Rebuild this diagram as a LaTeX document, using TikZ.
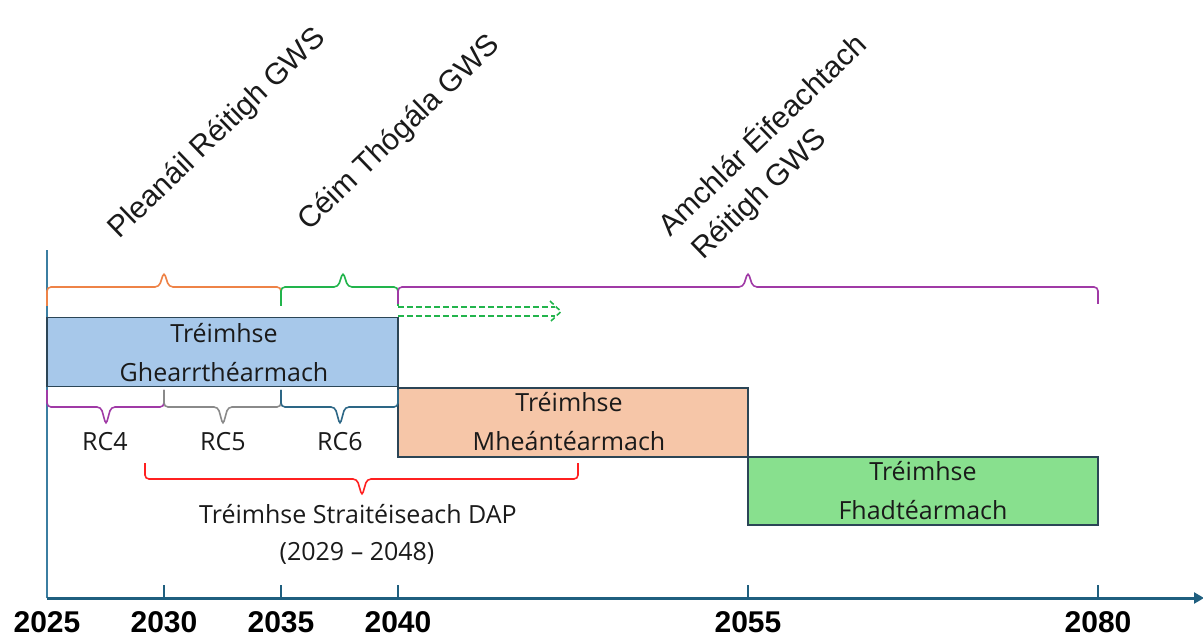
\documentclass[tikz,border=0pt]{standalone}
\usepackage{fontspec}
\setmainfont{Open Sans}
\newfontfamily\arialf{Liberation Sans}
\usetikzlibrary{arrows.meta}
\definecolor{axisc}{HTML}{1F5F7F}
\definecolor{vaxc}{HTML}{3B7EA1}
\definecolor{boxline}{HTML}{2B4556}
\definecolor{bluef}{HTML}{A7C8EA}
\definecolor{orangef}{HTML}{F6C6A8}
\definecolor{greenf}{HTML}{88E08E}
\definecolor{cor}{HTML}{EE8347}
\definecolor{cgr}{HTML}{22B44C}
\definecolor{cpu}{HTML}{A03AA6}
\definecolor{cgy}{HTML}{8A8A8A}
\definecolor{cte}{HTML}{2D6786}
\definecolor{cre}{HTML}{FF2020}
\definecolor{txt}{HTML}{1A1A1A}
\newcommand\mybrace[8]{\draw[bracesty,#1] (#2,#6) -- (#2,#5) -- (#4-5,#5) -- (#4,#7) -- (#4+5,#5) -- (#3,#5) -- (#3,#8);}
\begin{document}
\begin{tikzpicture}[x=1pt,y=-1pt,
 bracesty/.style={line width=1.6pt, rounded corners=4pt},
 period/.style={draw=boxline, line width=1.4pt, rectangle, inner sep=0pt},
 btext/.style={font=\fontsize{25}{28}\selectfont, anchor=base, inner sep=0pt, text=txt},
 ylab/.style={font=\arialf\bfseries\fontsize{30}{32}\selectfont, anchor=base, inner sep=0pt},
 rotlab/.style={font=\arialf\fontsize{30}{32}\selectfont, anchor=base west, rotate=44, inner sep=0pt, text=txt},
 tickline/.style={draw=axisc, line width=1.3pt},
 dasharr/.style={cgr, line width=1.6pt, dash pattern=on 6pt off 3pt}]
\useasboundingbox (0,0) rectangle (1203,636);
% axes
\coordinate (o) at (47,598);
\coordinate (vtop) at (47,250);
\coordinate (aend) at (1204,598);
\draw[vaxc, line width=1.6pt] (o) -- (vtop);
\draw[axisc, line width=3pt, -{Triangle[length=10pt,width=11pt]}] (o) -- (aend);
\foreach \x/\n in {164/a,281/b,398/c,748/d,1098/e}{
  \coordinate (tk\n) at (\x,598);
  \coordinate (tt\n) at (\x,585);
  \draw[tickline] (tk\n) -- (tt\n);
}
\foreach \x/\y in {47/2025,164/2030,281/2035,398/2040,748/2055,1098/2080}{
  \node[ylab] (y\y) at (\x,632) {\y};
}
% boxes
\node[period, fill=bluef, minimum width=351pt, minimum height=69pt] (short) at (222.5,352) {};
\node[period, fill=orangef, minimum width=350pt, minimum height=69pt] (mid) at (573,422.5) {};
\node[period, fill=greenf, minimum width=350pt, minimum height=68pt] (long) at (923,491) {};
\node[btext] (t1a) at (224,343) {Tréimhse};
\node[btext] (t1b) at (224,382) {Ghearrthéarmach};
\node[btext] (t2a) at (569,412) {Tréimhse};
\node[btext] (t2b) at (569,450) {Mheántéarmach};
\node[btext] (t3a) at (923,480) {Tréimhse};
\node[btext] (t3b) at (923,519) {Fhadtéarmach};
% top braces
\mybrace{cor}{47}{281}{164}{287}{306}{272}{306}
\mybrace{cgr}{281}{398}{343}{287}{306}{272}{306}
\mybrace{cpu}{398}{1098}{748}{287}{304}{272}{304}
% bottom braces
\mybrace{cpu}{47}{164}{106}{407}{390}{425}{390}
\mybrace{cgy}{164}{281}{223}{407}{390}{425}{390}
\mybrace{cte}{281}{398}{340}{407}{390}{425}{390}
\mybrace{cre}{145}{578}{362}{479}{463}{496}{463}
\node[btext] (rc4) at (105,450) {RC4};
\node[btext] (rc5) at (223,450) {RC5};
\node[btext] (rc6) at (340,450) {RC6};
\node[btext] (dap) at (358,523) {Tréimhse Straitéiseach DAP};
\node[btext] (dapy) at (357,560) {(2029 – 2048)};
% dashed double arrow
\coordinate (d1s) at (398,307); \coordinate (d1e) at (555,307);
\coordinate (d2s) at (398,316); \coordinate (d2e) at (555,316);
\coordinate (h1) at (550,301); \coordinate (ht) at (561,311.5); \coordinate (h2) at (550,322);
\draw[dasharr] (d1s) -- (d1e) (d2s) -- (d2e);
\draw[dasharr, dash pattern=on 5pt off 3pt] (h1) -- (ht) -- (h2);
% rotated labels
\node[rotlab] (lp) at (119,240) {Pleanáil Réitigh GWS};
\node[rotlab] (lc) at (309,232) {Céim Thógála GWS};
\node[rotlab] (la1) at (670,238) {Amchlár Éifeachtach};
\node[rotlab] (la2) at (703,261) {Réitigh GWS};
\end{tikzpicture}
\end{document}
